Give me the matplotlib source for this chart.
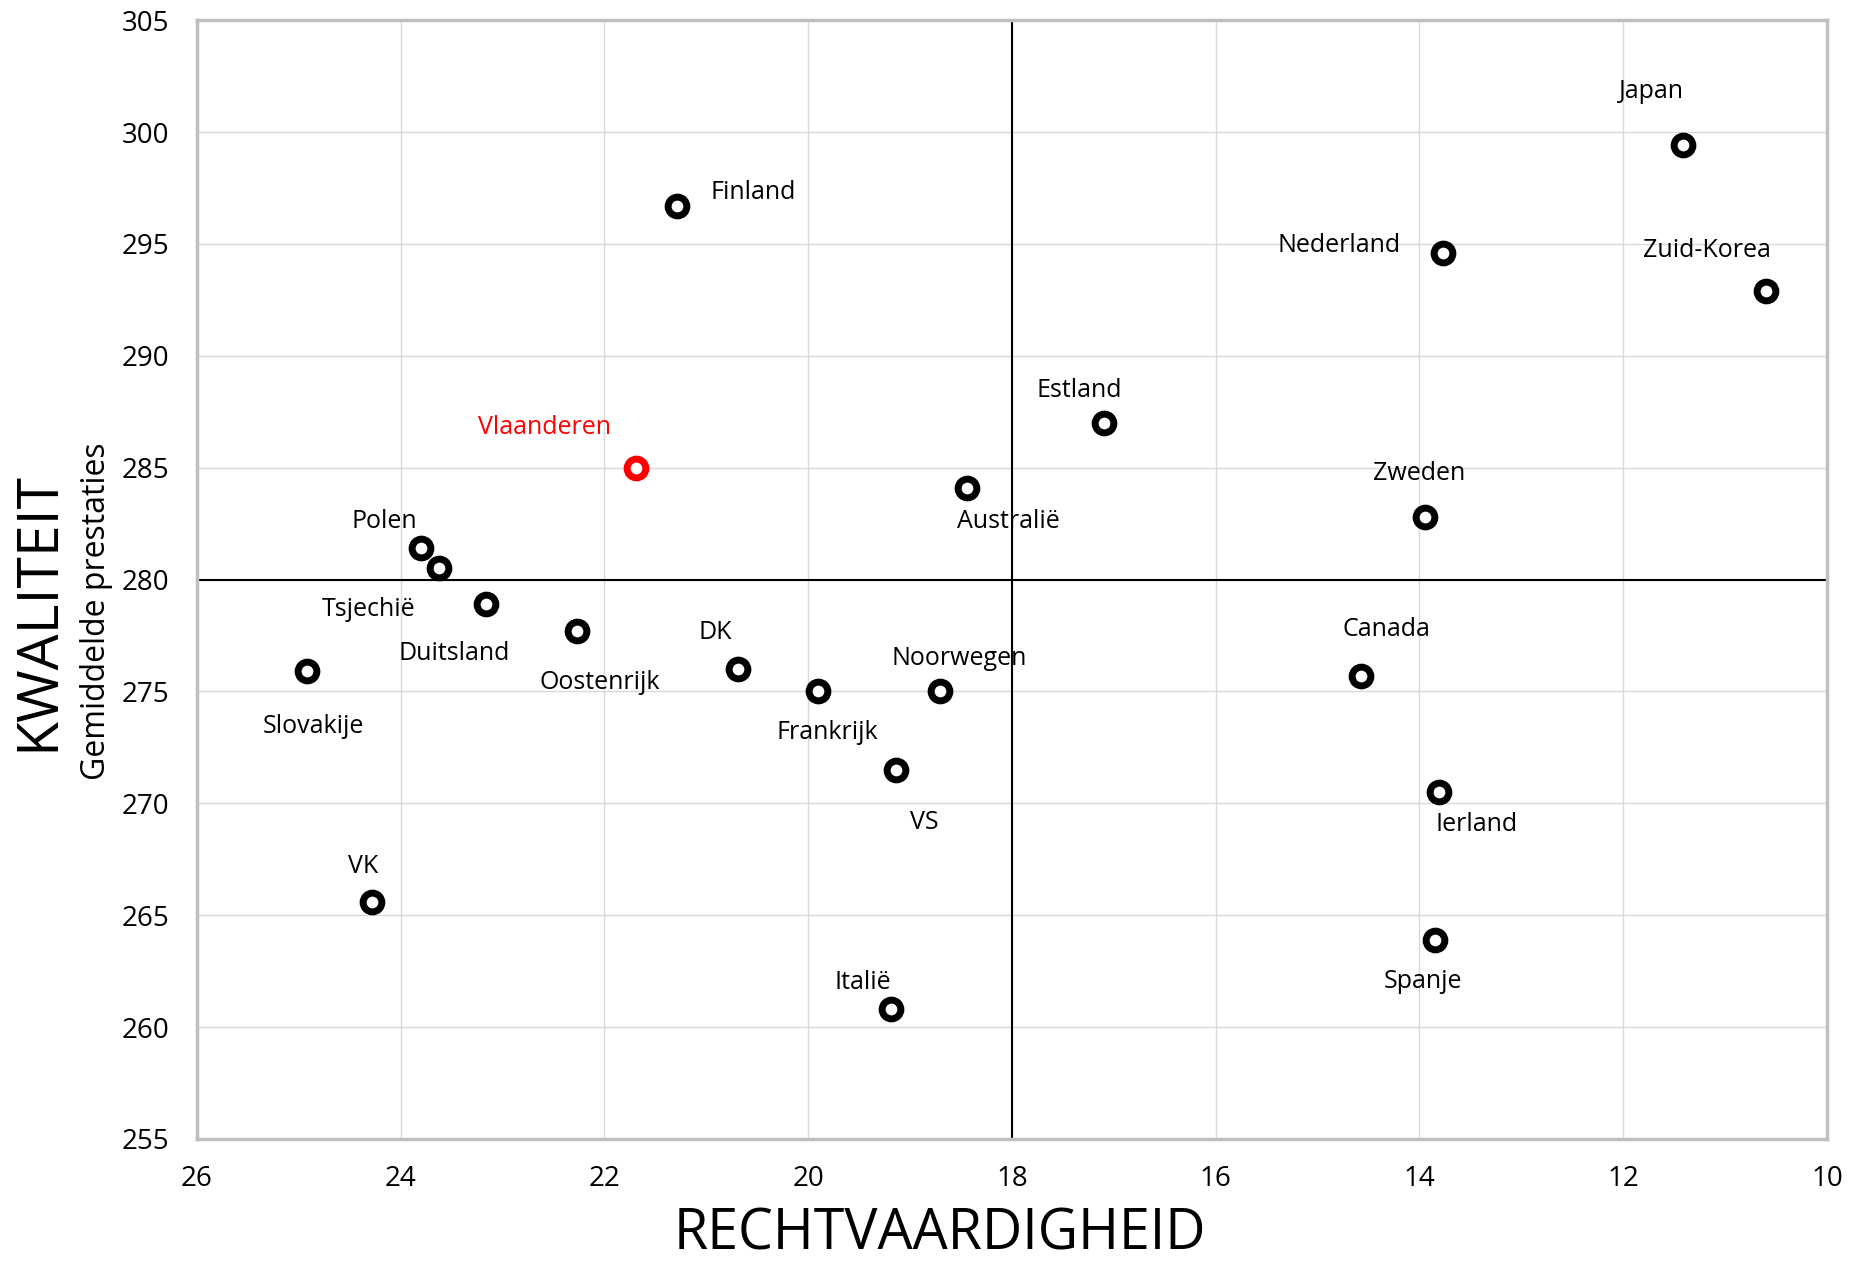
import matplotlib.pyplot as plt

plt.rcParams['font.family'] = ['Open Sans', 'DejaVu Sans']

# data: (rechtvaardigheid, kwaliteit)
landen = ["Japan", "Zuid-Korea", "Nederland", "Finland", "Estland", "Vlaanderen",
          "Australië", "Zweden", "Polen", "Tsjechië", "Duitsland", "Oostenrijk",
          "Slovakije", "DK", "Frankrijk", "Noorwegen", "VS", "Canada", "Ierland",
          "Spanje", "Italië", "VK"]
rechtvaardigheid = [11.41, 10.60, 13.77, 21.29, 17.10, 21.69,
                    18.44, 13.95, 23.80, 23.62, 23.16, 22.27,
                    24.92, 20.69, 19.90, 18.71, 19.14, 14.57, 13.81,
                    13.85, 19.19, 24.28]
kwaliteit = [299.4, 292.9, 294.6, 296.7, 287.0, 285.0,
             284.1, 282.8, 281.4, 280.5, 278.9, 277.7,
             275.9, 276.0, 275.0, 275.0, 271.5, 275.7, 270.5,
             263.9, 260.8, 265.6]

# label offsets in pixels
offsets = {"Japan": (-32, 58), "Zuid-Korea": (-59, 44), "Nederland": (-104, 11),
           "Finland": (76, 17), "Estland": (-24, 36), "Vlaanderen": (-92, 44),
           "Australië": (41, -30), "Zweden": (-5, 47), "Polen": (-37, 31),
           "Tsjechië": (-71, -37), "Duitsland": (-32, -45), "Oostenrijk": (23, -47),
           "Slovakije": (6, -51), "DK": (-23, 41), "Frankrijk": (9, -37),
           "Noorwegen": (20, 37), "VS": (28, -49), "Canada": (25, 50),
           "Ierland": (38, -28), "Spanje": (-12, -38), "Italië": (-28, 31),
           "VK": (-9, 39)}

fig = plt.figure(figsize=(18.58, 12.62), dpi=100)
ax = fig.add_axes([0.106, 0.0975, 0.8773, 0.8865])

ax.set_xlim(26, 10)
ax.set_ylim(255, 305)
ax.set_xticks(range(26, 9, -2))
ax.set_yticks(range(255, 306, 5))
ax.grid(True, color='#D9D9D9', linewidth=1)
ax.set_axisbelow(True)
for s in ax.spines.values():
    s.set_color('#BFBFBF')
    s.set_linewidth(2.5)
ax.tick_params(axis='both', length=0, labelsize=20)
ax.tick_params(axis='y', pad=20)
ax.tick_params(axis='x', pad=19)

ax.axvline(18, color='black', linewidth=1.5, zorder=2)
ax.axhline(280, color='black', linewidth=1.5, zorder=2)

for naam, x, y in zip(landen, rechtvaardigheid, kwaliteit):
    kleur = 'red' if naam == "Vlaanderen" else 'black'
    ax.plot(x, y, 'o', markersize=13.5, markerfacecolor='white',
            markeredgecolor=kleur, markeredgewidth=5, zorder=3)
    dx, dy = offsets[naam]
    ax.annotate(naam, (x, y), xytext=(dx, dy - 4), textcoords='offset pixels',
                ha='center', va='center', fontsize=18, color=kleur)

fig.text(0.021, 0.516, "KWALITEIT", rotation=90, ha='center', va='center', fontsize=41)
fig.text(0.052, 0.516, "Gemiddelde prestaties", rotation=90, ha='center', va='center', fontsize=23)
fig.text(0.506, 0.021, "RECHTVAARDIGHEID", ha='center', va='center', fontsize=40)

fig.savefig("out.png", dpi=100)
